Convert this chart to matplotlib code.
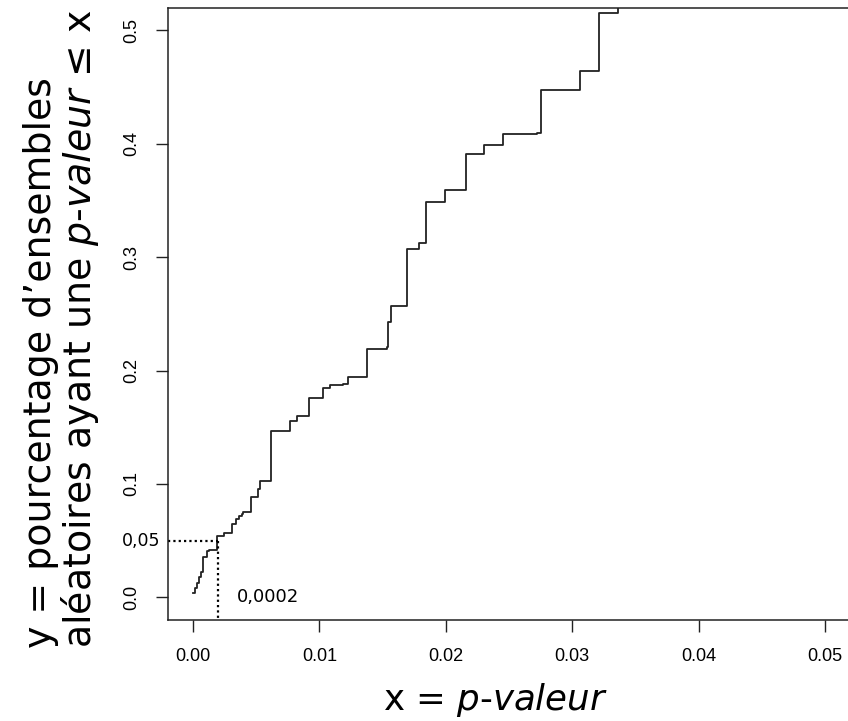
import matplotlib
matplotlib.use("Agg")
import matplotlib.pyplot as plt

# step levels of the cumulative curve (x = p-value where the level starts, y = level)
p_valeur = [0.00002, 0.00016, 0.00034, 0.00051, 0.00063, 0.00082, 0.00108, 0.00127,
            0.00190, 0.00245, 0.00309, 0.00340, 0.00366, 0.00385, 0.00398, 0.00459,
            0.00517, 0.00534, 0.00619, 0.00770, 0.00820, 0.00920, 0.01031, 0.01080,
            0.01184, 0.01229, 0.01380, 0.01531, 0.01540, 0.01569, 0.01693, 0.01790,
            0.01843, 0.01994, 0.02156, 0.02304, 0.02455, 0.02718, 0.02757, 0.03062,
            0.03214, 0.03365]
pourcentage = [0.0038, 0.0079, 0.0123, 0.0176, 0.0220, 0.0353, 0.0406, 0.0414,
               0.0538, 0.0567, 0.0644, 0.0688, 0.0719, 0.0736, 0.0750, 0.0884,
               0.0959, 0.1026, 0.1470, 0.1552, 0.1596, 0.1761, 0.1843, 0.1870,
               0.1883, 0.1940, 0.2193, 0.2206, 0.2428, 0.2568, 0.3069, 0.3124,
               0.3486, 0.3595, 0.3905, 0.3986, 0.4083, 0.4096, 0.4477, 0.4641,
               0.5156, 0.5300]

seuil_y = 0.05
seuil_x = 0.002
xticks = [0.00, 0.01, 0.02, 0.03, 0.04, 0.05]
yticks = [0.0, 0.1, 0.2, 0.3, 0.4, 0.5]

plt.rcParams["mathtext.fontset"] = "custom"
plt.rcParams["mathtext.rm"] = "DejaVu Sans"
plt.rcParams["mathtext.it"] = "DejaVu Sans:italic"

fig = plt.figure(figsize=(8.48, 7.21), dpi=100)
ax = fig.add_axes([167.7 / 848, 101 / 721, 682.6 / 848, 612.4 / 721])

ax.plot(p_valeur, pourcentage, drawstyle="steps-post", color="#222222", lw=1.3)

# dotted guide lines
ax.plot([-0.002, seuil_x], [seuil_y, seuil_y], color="black", lw=1.6, ls=(0, (1, 1.4)))
ax.plot([seuil_x, seuil_x], [seuil_y, -0.02], color="black", lw=1.6, ls=(0, (1, 1.4)))

ax.text(-0.0026, seuil_y, "0,05", ha="right", va="center", fontsize=12.5,
        family="DejaVu Sans", clip_on=False)
ax.text(0.00346, 0.0, "0,0002", ha="left", va="center", fontsize=13,
        family="DejaVu Sans")

ax.set_xlim(-0.002, 0.052)
ax.set_ylim(-0.02, 0.52)
ax.set_xticks(xticks)
ax.set_xticklabels(["%.2f" % v for v in xticks], family="Liberation Sans", fontsize=13)
ax.set_yticks(yticks)
ax.set_yticklabels(["%.1f" % v for v in yticks], family="Liberation Sans", fontsize=13,
                   rotation=90, va="center")
ax.tick_params(direction="out", length=8.5, width=1, color="#222222")
ax.tick_params(axis="x", pad=12)
ax.tick_params(axis="y", pad=11)

for s in ax.spines.values():
    s.set_linewidth(1.1)
    s.set_color("#222222")

fig.text(495 / 848, 1 - 700 / 721, r"x = $\mathit{p}$-$\mathit{valeur}$",
         ha="center", va="center", fontsize=25.7)
fig.text(62 / 848, 1 - 329 / 721,
         "y = pourcentage d’ensembles\n" + r"aléatoires ayant une $\mathit{p}$-$\mathit{valeur}$ ≤ x",
         ha="center", va="center", rotation=90, fontsize=27.3, multialignment="left",
         linespacing=1.0)

fig.savefig("out.png", dpi=100)
